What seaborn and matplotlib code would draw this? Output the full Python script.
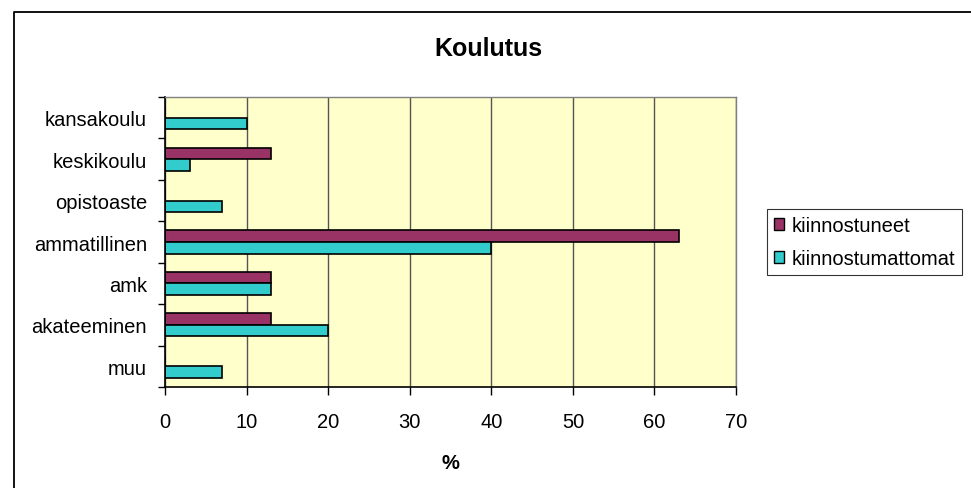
import seaborn as sns
import matplotlib.pyplot as plt
import pandas as pd
from matplotlib.patches import Patch
from matplotlib.lines import Line2D

categories = ['kansakoulu', 'keskikoulu', 'opistoaste', 'ammatillinen', 'amk', 'akateeminen', 'muu']
kiinnostuneet = [0, 13, 0, 63, 13, 13, 0]
kiinnostumattomat = [10, 3, 7, 40, 13, 20, 7]
series = ['kiinnostuneet', 'kiinnostumattomat']
colors = ['#993366', '#33CCCC']

df = pd.DataFrame({
    'Koulutus': categories * 2,
    'arvo': kiinnostuneet + kiinnostumattomat,
    'ryhma': [series[0]] * len(categories) + [series[1]] * len(categories),
})

sns.set_style('white')
plt.rcParams['font.family'] = ['Liberation Sans', 'DejaVu Sans']
plt.rcParams['text.color'] = 'black'
plt.rcParams['xtick.color'] = 'black'
plt.rcParams['ytick.color'] = 'black'
plt.rcParams['axes.labelcolor'] = 'black'

fig = plt.figure(figsize=(9.71, 4.89), dpi=100)
ax = fig.add_axes([0.170, 0.2065, 0.588, 0.593])
ax.set_facecolor('#FFFFCC')

sns.barplot(data=df, x='arvo', y='Koulutus', hue='ryhma', order=categories,
            hue_order=series, palette=colors, saturation=1, width=0.56,
            edgecolor='black', linewidth=1.2, legend=False, ax=ax)

ax.set_xlim(0, 70)
ax.set_ylim(6.5, -0.5)
ax.set_xticks(range(0, 71, 10))
ax.grid(axis='x', color='#555555', linewidth=1)
ax.set_axisbelow(True)

# Excel style: ticks between categories
ax.set_yticks([i - 0.5 for i in range(len(categories) + 1)], minor=True)
ax.tick_params(axis='y', which='major', length=0, labelsize=14.5, pad=13)
ax.tick_params(axis='y', which='minor', length=5, width=1, color='black', direction='out', left=True)
ax.tick_params(axis='x', length=6, width=1, color='black', direction='out', bottom=True, labelsize=14.5, pad=12)

for s in ['left', 'bottom']:
    ax.spines[s].set_color('black')
    ax.spines[s].set_linewidth(1.2)
for s in ['top', 'right']:
    ax.spines[s].set_color('#808080')
    ax.spines[s].set_linewidth(1)

ax.set_ylabel('')
ax.set_xlabel('%', fontsize=14.5, fontweight='bold', labelpad=16)
fig.suptitle('Koulutus', x=0.503, y=0.925, fontsize=18, fontweight='bold')

handles = [Patch(facecolor=c, edgecolor='black', label=l) for c, l in zip(colors, series)]
leg = fig.legend(handles=handles, loc='center left', bbox_to_anchor=(0.790, 0.503),
                 frameon=True, fancybox=False, edgecolor='black', fontsize=14.5,
                 handlelength=0.5, handleheight=0.5, handletextpad=0.35,
                 labelspacing=0.7, borderpad=0.35, borderaxespad=0)
leg.get_frame().set_linewidth(0.8)

# chart frame: only top and left edges visible in the reference
fig.add_artist(Line2D([0.0144, 0.0144, 1.0], [0.0, 0.9724, 0.9724],
                      transform=fig.transFigure, color='black', linewidth=1.3))

fig.savefig('out.png', dpi=100)
